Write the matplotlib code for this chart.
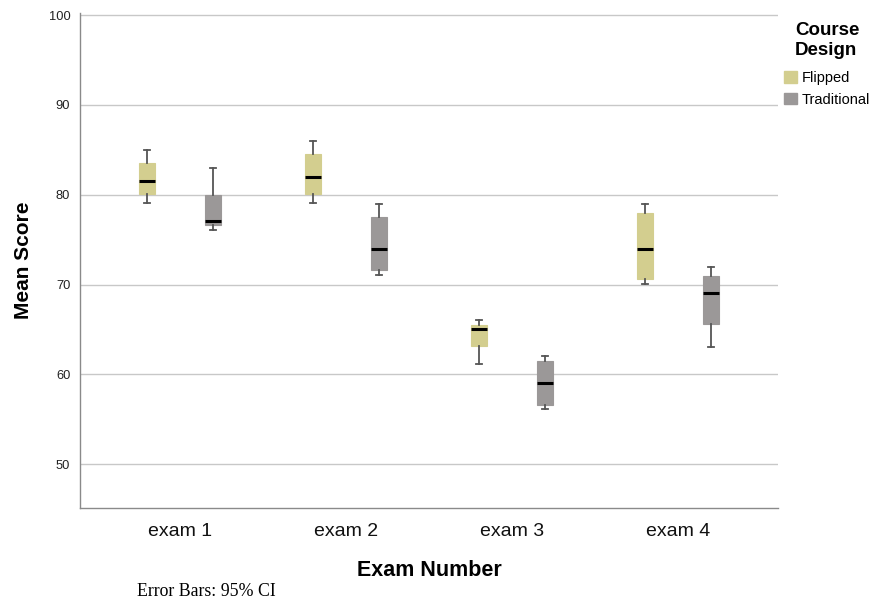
import matplotlib
matplotlib.use("Agg")
import matplotlib.pyplot as plt
from matplotlib.patches import Patch

# Exam categories and course designs
exams = ["exam 1", "exam 2", "exam 3", "exam 4"]
designs = ["Flipped", "Traditional"]
colors = {"Flipped": "#d3ce8f", "Traditional": "#9b9898"}

# Box summaries per design: whisker low, Q1, median, Q3, whisker high
flipped_low = [79.1, 79.1, 61.1, 70.05]
flipped_q1 = [80.1, 80.1, 63.1, 70.6]
flipped_med = [81.5, 82.0, 65.0, 74.0]
flipped_q3 = [83.5, 84.5, 65.5, 78.0]
flipped_high = [85.0, 86.0, 66.0, 79.0]

trad_low = [76.05, 71.05, 56.1, 63.05]
trad_q1 = [76.6, 71.6, 56.6, 65.6]
trad_med = [77.05, 74.0, 59.05, 69.0]
trad_q3 = [80.0, 77.5, 61.5, 71.0]
trad_high = [83.0, 79.0, 62.0, 72.0]

yticks = [50, 60, 70, 80, 90, 100]

series = {
    "Flipped": (flipped_low, flipped_q1, flipped_med, flipped_q3, flipped_high),
    "Traditional": (trad_low, trad_q1, trad_med, trad_q3, trad_high),
}

plt.rcParams["font.family"] = ["Liberation Sans", "DejaVu Sans"]

fig = plt.figure(figsize=(8.75, 6.06), dpi=100)
W, H = 875, 606
ax = fig.add_axes([80 / W, (H - 508) / H, (778 - 80) / W, (508 - 13) / H])

offsets = {"Flipped": -0.2, "Traditional": 0.2}
for d in designs:
    lo, q1, med, q3, hi = series[d]
    stats = [dict(whislo=lo[i], q1=q1[i], med=med[i], q3=q3[i], whishi=hi[i], fliers=[])
             for i in range(len(exams))]
    pos = [i + offsets[d] for i in range(len(exams))]
    ax.bxp(stats, positions=pos, widths=0.097, patch_artist=True, showfliers=False,
           boxprops=dict(facecolor=colors[d], edgecolor=colors[d], linewidth=0.8),
           medianprops=dict(color="black", linewidth=2.2),
           whiskerprops=dict(color="#555555", linewidth=1.3),
           capprops=dict(color="#555555", linewidth=1.3),
           capwidths=0.038, zorder=3)

ax.set_xlim(-0.602, 3.602)
ax.set_ylim(45.1, 100.25)
ax.set_yticks(yticks)
ax.set_yticklabels([str(v) for v in yticks], fontsize=9.3, color="#222222")
ax.set_xticks(range(len(exams)))
ax.set_xticklabels(exams, fontsize=14, color="#111111")
ax.tick_params(axis="both", length=0)
ax.tick_params(axis="x", pad=11)
ax.tick_params(axis="y", pad=7)
ax.grid(axis="y", color="#c8c8c8", linewidth=1.0, zorder=0)
ax.set_axisbelow(True)
for s in ["top", "right"]:
    ax.spines[s].set_visible(False)
for s in ["left", "bottom"]:
    ax.spines[s].set_color("#8a8a8a")
    ax.spines[s].set_linewidth(1.0)

ax.set_xlabel("Exam Number", fontsize=15.5, fontweight="bold", labelpad=14)
ax.set_ylabel("Mean Score", fontsize=15, fontweight="bold", labelpad=11)

handles = [Patch(facecolor=colors[d], edgecolor=colors[d], label=d) for d in designs]
leg = fig.legend(handles=handles, title="Course\nDesign", loc="upper left",
                 bbox_to_anchor=(774 / W, 1 - 12 / H), frameon=False,
                 fontsize=10.5, title_fontproperties=dict(weight="bold", size=13.5),
                 handlelength=0.85, handleheight=0.85, handletextpad=0.35,
                 labelspacing=0.5, borderpad=0.2, alignment="center")
leg._legend_box.sep = 9

fig.text(137 / W, 1 - 592 / H, "Error Bars: 95% CI", family="Liberation Serif",
         fontsize=12.8, va="center", ha="left")

fig.savefig("out.png", dpi=100)
